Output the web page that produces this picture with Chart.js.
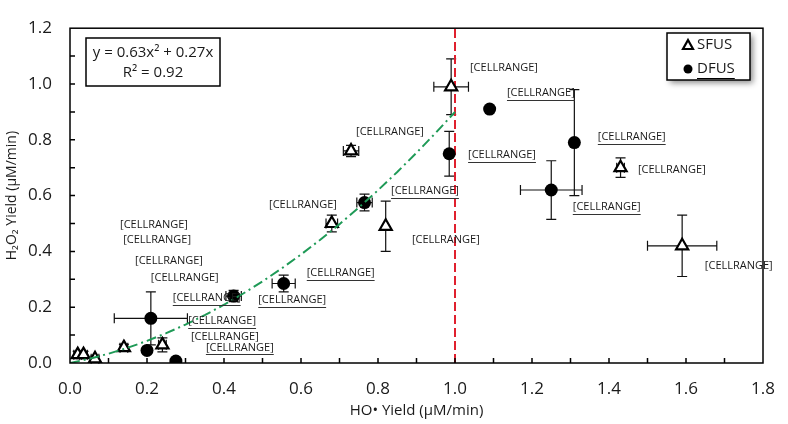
<!DOCTYPE html>
<html>
<head>
<meta charset="utf-8">
<script src="https://cdn.jsdelivr.net/npm/chart.js@4"></script>
<style>
  html, body { margin: 0; padding: 0; background: #fff; }
  #wrap { width: 788px; height: 424px; }
</style>
</head>
<body>
<div id="wrap"><canvas id="chart" width="788" height="424"></canvas></div>
<script>
// SFUS points (triangles)
const sfusX = [0.02, 0.035, 0.065, 0.14, 0.24, 0.68, 0.73, 0.82, 0.99, 1.43, 1.59];
const sfusY = [0.03, 0.03, 0.015, 0.055, 0.065, 0.50, 0.76, 0.49, 0.99, 0.70, 0.42];
const sfusXErr = [0.01, 0.01, 0.01, 0.01, 0.01, 0.015, 0.02, 0, 0.045, 0.01, 0.09];
const sfusYErr = [0.012, 0.012, 0.01, 0.012, 0.025, 0.03, 0.02, 0.09, 0.10, 0.035, 0.11];

// DFUS points (circles)
const dfusX = [0.20, 0.21, 0.275, 0.425, 0.555, 0.765, 0.985, 1.09, 1.31, 1.25];
const dfusY = [0.045, 0.16, 0.007, 0.24, 0.285, 0.575, 0.75, 0.91, 0.79, 0.62];
const dfusXErr = [0, 0.095, 0, 0.02, 0.03, 0.02, 0, 0, 0, 0.08];
const dfusYErr = [0, 0.095, 0, 0.02, 0.03, 0.03, 0.08, 0, 0.19, 0.105];

// data labels (text is the same everywhere in the source chart)
const pointLabel = '[CELLRANGE]';
// where each label sits (left edge / middle), in axis units
const sfusLabelAt = [[0.13, 0.496], [0.138, 0.44], [0.169, 0.366], [0.21, 0.306], [0.314, 0.092],
  [0.517, 0.567], [0.743, 0.83], [0.888, 0.443], [1.039, 1.059], [1.475, 0.693], [1.649, 0.348]];
const dfusLabelAt = [[0.353, 0.056], [0.307, 0.151], [0.489, 0.225], [0.267, 0.232], [0.615, 0.324],
  [0.834, 0.616], [1.034, 0.746], [1.135, 0.968], [1.371, 0.809], [1.306, 0.559]];

// trendline from the equation printed on the chart: y = 0.63x^2 + 0.27x
const trendA = 0.63, trendB = 0.27, trendR2 = 0.92;
const trendXs = [0, 0.05, 0.1, 0.15, 0.2, 0.25, 0.3, 0.35, 0.4, 0.45, 0.5, 0.55, 0.6, 0.65, 0.7, 0.75, 0.8, 0.85, 0.9, 0.95, 1.0];

const limitX = 1.0; // red dashed line

const xTicks = [0, 0.2, 0.4, 0.6, 0.8, 1.0, 1.2, 1.4, 1.6, 1.8];
const yTicks = [0, 0.2, 0.4, 0.6, 0.8, 1.0, 1.2];

const FONT = "'Open Sans', sans-serif";
const INK = '#1a1a1a';

function pts(xs, ys) { return xs.map((x, i) => ({x: x, y: ys[i]})); }

const errorBars = {
  id: 'errorBars',
  beforeDatasetsDraw(chart) {
    const ctx = chart.ctx, xs = chart.scales.x, ys = chart.scales.y;
    ctx.save();
    ctx.strokeStyle = '#111';
    ctx.lineWidth = 1.2;
    chart.data.datasets.forEach(ds => {
      if (!ds.errX) return;
      ds.data.forEach((p, i) => {
        const cx = xs.getPixelForValue(p.x), cy = ys.getPixelForValue(p.y);
        const ex = ds.errX[i], ey = ds.errY[i];
        const cap = 5;
        ctx.beginPath();
        if (ex > 0) {
          const l = xs.getPixelForValue(p.x - ex), r = xs.getPixelForValue(p.x + ex);
          ctx.moveTo(l, cy); ctx.lineTo(r, cy);
          ctx.moveTo(l, cy - cap); ctx.lineTo(l, cy + cap);
          ctx.moveTo(r, cy - cap); ctx.lineTo(r, cy + cap);
        }
        if (ey > 0) {
          const t = ys.getPixelForValue(p.y + ey), b = ys.getPixelForValue(p.y - ey);
          ctx.moveTo(cx, t); ctx.lineTo(cx, b);
          ctx.moveTo(cx - cap, t); ctx.lineTo(cx + cap, t);
          ctx.moveTo(cx - cap, b); ctx.lineTo(cx + cap, b);
        }
        ctx.stroke();
      });
    });
    ctx.restore();
  }
};

const frameAndTicks = {
  id: 'frameAndTicks',
  afterDraw(chart) {
    const ctx = chart.ctx, a = chart.chartArea, xs = chart.scales.x, ys = chart.scales.y;
    ctx.save();
    ctx.strokeStyle = '#000';
    ctx.lineWidth = 1.5;
    ctx.strokeRect(a.left, a.top, a.right - a.left, a.bottom - a.top);
    ctx.beginPath();
    for (let k = 1; k < 18; k++) {
      const px = xs.getPixelForValue(k / 10);
      ctx.moveTo(px, a.bottom); ctx.lineTo(px, a.bottom - 5);
    }
    for (let k = 1; k < 12; k++) {
      const py = ys.getPixelForValue(k / 10);
      ctx.moveTo(a.left, py); ctx.lineTo(a.left + 5, py);
    }
    ctx.stroke();
    ctx.restore();
  }
};

const pointLabels = {
  id: 'pointLabels',
  afterDraw(chart) {
    const ctx = chart.ctx, xs = chart.scales.x, ys = chart.scales.y;
    ctx.save();
    ctx.font = '11px ' + FONT;
    ctx.fillStyle = '#1a1a1a';
    ctx.strokeStyle = '#333';
    ctx.lineWidth = 1;
    ctx.textBaseline = 'middle';
    chart.data.datasets.forEach(ds => {
      if (!ds.labelAt) return;
      ds.labelAt.forEach(pos => {
        const lx = xs.getPixelForValue(pos[0]), ly = ys.getPixelForValue(pos[1]);
        ctx.fillText(pointLabel, lx, ly);
        if (ds.underline) {
          const w = ctx.measureText(pointLabel).width;
          ctx.beginPath();
          ctx.moveTo(lx, Math.round(ly + 7) + 0.5); ctx.lineTo(lx + w, Math.round(ly + 7) + 0.5);
          ctx.stroke();
        }
      });
    });
    ctx.restore();
  }
};

const boxes = {
  id: 'boxes',
  afterDraw(chart) {
    const ctx = chart.ctx;
    ctx.save();
    // equation box
    ctx.fillStyle = '#fff';
    ctx.fillRect(86, 38, 134, 48);
    ctx.strokeStyle = '#000';
    ctx.lineWidth = 1.5;
    ctx.strokeRect(86, 38, 134, 48);
    ctx.fillStyle = INK;
    ctx.font = '15px ' + FONT;
    ctx.textAlign = 'center';
    ctx.textBaseline = 'middle';
    ctx.fillText('y = ' + trendA + 'x\u00B2 + ' + trendB + 'x', 153, 53);
    ctx.fillText('R\u00B2 = ' + trendR2, 153, 73);

    // legend box with shadow
    ctx.save();
    ctx.shadowColor = 'rgba(0,0,0,0.45)';
    ctx.shadowBlur = 6;
    ctx.shadowOffsetX = 3;
    ctx.shadowOffsetY = 3;
    ctx.fillStyle = '#fff';
    ctx.fillRect(667, 33, 83, 47);
    ctx.restore();
    ctx.strokeStyle = '#000';
    ctx.lineWidth = 1.5;
    ctx.strokeRect(667, 33, 83, 47);

    const items = chart.data.datasets.filter(d => d.labelAt);
    items.forEach((ds, i) => {
      const cy = 45 + i * 24, cx = 688;
      ctx.beginPath();
      if (ds.pointStyle === 'triangle') {
        ctx.moveTo(cx, cy - 5); ctx.lineTo(cx + 5, cy + 4); ctx.lineTo(cx - 5, cy + 4); ctx.closePath();
        ctx.lineWidth = 2.2; ctx.strokeStyle = '#000'; ctx.stroke();
      } else {
        ctx.arc(cx, cy, 4.5, 0, Math.PI * 2);
        ctx.fillStyle = '#000'; ctx.fill();
      }
      ctx.fillStyle = INK;
      ctx.font = '15px ' + FONT;
      ctx.textAlign = 'left';
      ctx.textBaseline = 'middle';
      ctx.fillText(ds.label, 697, cy);
      if (ds.underline) {
        const w = ctx.measureText(ds.label).width;
        ctx.beginPath();
        ctx.lineWidth = 1;
        ctx.moveTo(697, cy + 9.5); ctx.lineTo(697 + w, cy + 9.5);
        ctx.stroke();
      }
    });
    ctx.restore();
  }
};

new Chart(document.getElementById('chart'), {
  type: 'scatter',
  data: {
    datasets: [
      {
        label: 'trend',
        type: 'line',
        data: trendXs.map(x => ({x: x, y: trendA * x * x + trendB * x})),
        borderColor: '#1f9a57',
        borderWidth: 2,
        borderDash: [10, 4, 2, 4],
        pointRadius: 0,
        fill: false,
        tension: 0,
        order: 0
      },
      {
        label: 'limit',
        type: 'line',
        data: [{x: limitX, y: 0}, {x: limitX, y: 1.2}],
        borderColor: '#e0202e',
        borderWidth: 2,
        borderDash: [9, 4],
        pointRadius: 0,
        fill: false,
        order: 5
      },
      {
        label: 'SFUS',
        data: pts(sfusX, sfusY),
        errX: sfusXErr,
        errY: sfusYErr,
        labelAt: sfusLabelAt,
        underline: false,
        pointStyle: 'triangle',
        pointRadius: 7,
        pointBackgroundColor: '#fff',
        pointBorderColor: '#000',
        pointBorderWidth: 2.2,
        order: 2
      },
      {
        label: 'DFUS',
        data: pts(dfusX, dfusY),
        errX: dfusXErr,
        errY: dfusYErr,
        labelAt: dfusLabelAt,
        underline: true,
        pointStyle: 'circle',
        pointRadius: 6.5,
        pointBackgroundColor: '#000',
        pointBorderColor: '#000',
        pointBorderWidth: 0,
        order: 1
      }
    ]
  },
  options: {
    responsive: false,
    animation: false,
    layout: { padding: { top: 22, right: 25, left: 0, bottom: 0 } },
    plugins: { legend: { display: false }, tooltip: { enabled: false } },
    scales: {
      x: {
        type: 'linear',
        min: 0, max: 1.8,
        afterBuildTicks: s => { s.ticks = xTicks.map(v => ({value: v})); },
        afterFit: s => { s.height = 61; s.paddingLeft = 0; s.paddingRight = 0; },
        grid: { display: false, drawTicks: false },
        border: { display: false },
        ticks: { padding: 16, color: INK, font: { family: FONT, size: 17 }, callback: v => v.toFixed(1) },
        title: { display: true, text: 'HO\u2022 Yield (\u00B5M/min)', color: INK, font: { family: FONT, size: 15 }, padding: { top: 0 } }
      },
      y: {
        type: 'linear',
        min: 0, max: 1.2,
        afterBuildTicks: s => { s.ticks = yTicks.map(v => ({value: v})); },
        afterFit: s => { s.width = 70; },
        grid: { display: false, drawTicks: false },
        border: { display: false },
        ticks: { padding: 18, color: INK, font: { family: FONT, size: 17 }, callback: v => v.toFixed(1) },
        title: { display: true, text: 'H\u2082O\u2082 Yield (\u00B5M/min)', color: INK, font: { family: FONT, size: 14 }, padding: { top: 4, bottom: 0 } }
      }
    }
  },
  plugins: [errorBars, frameAndTicks, pointLabels, boxes]
});
</script>
</body>
</html>
